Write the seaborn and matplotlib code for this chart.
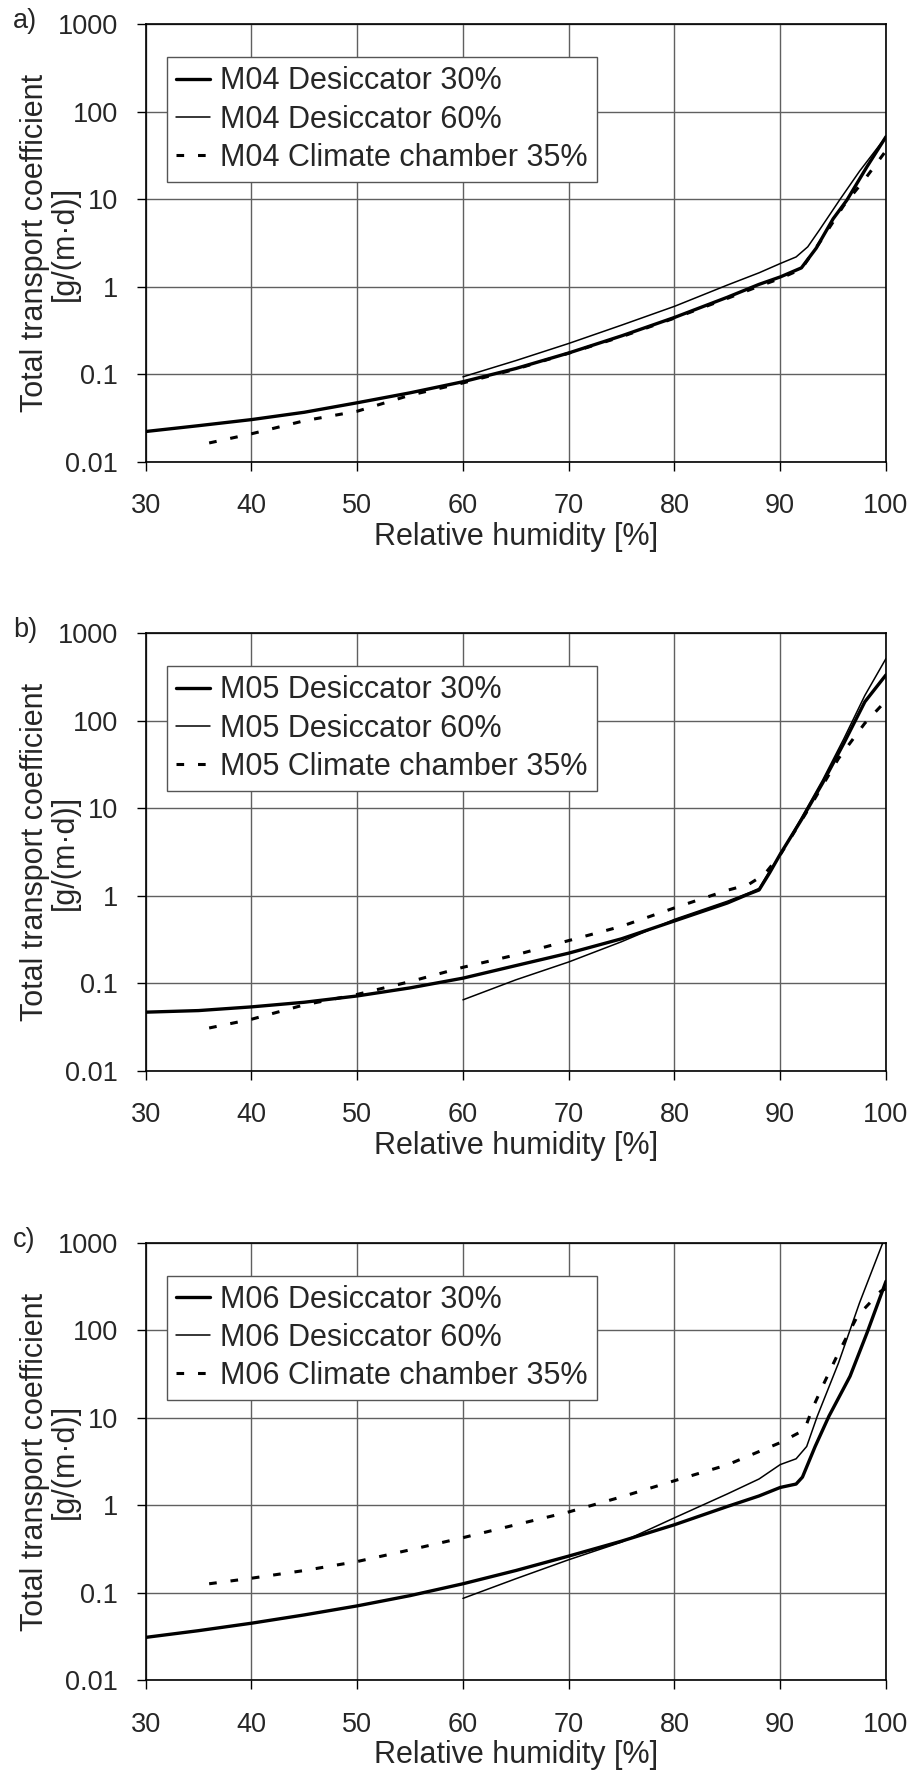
import matplotlib
matplotlib.use("Agg")
import matplotlib.pyplot as plt
import numpy as np
import pandas as pd
import seaborn as sns

# values (RH in %, coefficient in g/(m·d))
rh_m04_30 = [30, 35, 40, 45, 50, 55, 60, 65, 70, 75, 80, 85, 88, 90, 92, 93.4, 95, 96.3, 98.2, 100]
val_m04_30 = [0.0223, 0.026, 0.0305, 0.037, 0.0475, 0.0617, 0.0826, 0.117, 0.176, 0.276, 0.448, 0.762, 1.07, 1.3, 1.65, 2.77, 6.0, 9.8, 23.6, 52]
rh_m04_60 = [60, 65, 70, 75, 80, 85, 88, 90, 91.5, 92.6, 93.7, 95.6, 97.5, 100]
val_m04_60 = [0.094, 0.144, 0.226, 0.366, 0.6, 1.05, 1.45, 1.85, 2.2, 2.87, 4.46, 9.8, 21, 52]
rh_m04_cc = [36, 40, 45, 50, 55, 60, 65, 70, 75, 80, 85, 88, 90, 92, 94, 96, 98, 100]
val_m04_cc = [0.0165, 0.021, 0.0296, 0.038, 0.058, 0.08, 0.115, 0.175, 0.27, 0.44, 0.74, 1.02, 1.25, 1.6, 3.6, 8.5, 17, 36]

rh_m05_30 = [30, 35, 40, 45, 50, 55, 60, 65, 70, 75, 80, 85, 87, 88, 89, 90, 92, 94, 96, 98, 100]
val_m05_30 = [0.047, 0.049, 0.054, 0.061, 0.072, 0.089, 0.115, 0.16, 0.222, 0.324, 0.518, 0.83, 1.05, 1.17, 1.84, 3.0, 7.4, 19.4, 55, 165, 335]
rh_m05_60 = [60, 65, 70, 75, 80, 85, 87, 88, 89, 90, 92, 94, 96, 98, 100]
val_m05_60 = [0.065, 0.11, 0.176, 0.30, 0.54, 0.87, 1.08, 1.22, 1.94, 2.95, 7.8, 21, 62, 195, 515]
rh_m05_cc = [36, 40, 45, 50, 55, 60, 65, 70, 75, 80, 85, 87, 88.5, 90, 93, 95.5, 98, 100]
val_m05_cc = [0.031, 0.039, 0.057, 0.075, 0.105, 0.153, 0.212, 0.309, 0.45, 0.73, 1.16, 1.35, 1.76, 2.95, 11.4, 37, 94, 170]

rh_m06_30 = [30, 35, 40, 45, 50, 55, 60, 65, 70, 75, 80, 85, 88, 90, 91.5, 92.1, 93.3, 94.6, 96.6, 98.2, 100]
val_m06_30 = [0.031, 0.037, 0.045, 0.056, 0.071, 0.093, 0.127, 0.18, 0.263, 0.39, 0.6, 0.97, 1.28, 1.6, 1.75, 2.1, 4.7, 10.4, 29.8, 93, 363]
rh_m06_60 = [60, 65, 70, 75, 80, 85, 88, 90, 91.5, 92.5, 93.5, 95.5, 97.5, 99.7, 100]
val_m06_60 = [0.0865, 0.145, 0.239, 0.38, 0.72, 1.35, 2.0, 2.92, 3.4, 4.7, 10.4, 42, 206, 1000, 1150]
rh_m06_cc = [36, 40, 45, 50, 55, 60, 65, 70, 75, 80, 85, 90, 92.3, 93, 94, 95.5, 97.3, 99.5, 100]
val_m06_cc = [0.127, 0.147, 0.18, 0.228, 0.31, 0.427, 0.6, 0.84, 1.25, 1.91, 2.9, 5.2, 7.3, 12.4, 22.9, 55, 145, 279, 300]

panels = [
    ("a)", "M04", (rh_m04_30, val_m04_30), (rh_m04_60, val_m04_60), (rh_m04_cc, val_m04_cc)),
    ("b)", "M05", (rh_m05_30, val_m05_30), (rh_m05_60, val_m05_60), (rh_m05_cc, val_m05_cc)),
    ("c)", "M06", (rh_m06_30, val_m06_30), (rh_m06_60, val_m06_60), (rh_m06_cc, val_m06_cc)),
]

x_ticks = [30, 40, 50, 60, 70, 80, 90, 100]
y_ticks = [0.01, 0.1, 1, 10, 100, 1000]
y_labels = ["0.01", "0.1", "1", "10", "100", "1000"]

sns.set_style("white")
plt.rcParams["font.family"] = ["Liberation Sans", "DejaVu Sans"]
plt.rcParams["lines.scale_dashes"] = False

W, H = 916, 1776
fig = plt.figure(figsize=(W / 100, H / 100), dpi=100)

ax_left, ax_w, ax_h = 145.7, 740.3, 437.7
ax_tops = [24.3, 633.3, 1242.7]
fs_tick = 19.5
fs = 22

for (tag, name, s30, s60, scc), top in zip(panels, ax_tops):
    ax = fig.add_axes([ax_left / W, 1 - (top + ax_h) / H, ax_w / W, ax_h / H])

    sns.lineplot(x=s30[0], y=s30[1], ax=ax, color="black", lw=2.4, sort=False,
                 label=f"{name} Desiccator 30%")
    sns.lineplot(x=s60[0], y=s60[1], ax=ax, color="black", lw=1.1, sort=False,
                 label=f"{name} Desiccator 60%")
    line_cc = sns.lineplot(x=scc[0], y=scc[1], ax=ax, color="black", lw=2.2, sort=False,
                           label=f"{name} Climate chamber 35%").lines[-1]
    line_cc.set_dashes((5.5, 10))

    ax.set_yscale("log")
    ax.set_xlim(30, 100)
    ax.set_ylim(0.01, 1000)
    ax.set_xticks(x_ticks)
    ax.set_xticklabels([str(t) for t in x_ticks])
    ax.set_yticks(y_ticks)
    ax.set_yticklabels(y_labels)
    ax.minorticks_off()
    ax.grid(True, which="major", color="#606060", lw=1.0)
    ax.tick_params(axis="both", which="major", length=6.5, width=1, color="black",
                   direction="out", labelsize=fs_tick, left=True, bottom=True)
    ax.tick_params(axis="y", pad=13.5)
    ax.tick_params(axis="x", pad=16)
    for sp in ax.spines.values():
        sp.set_color("black")
        sp.set_linewidth(1.2)

    ax.set_xlabel("Relative humidity [%]", fontsize=fs, va="center")
    ax.xaxis.set_label_coords(0.5, -0.171)
    # y label as two rotated lines so the second one sits beside the tick labels
    ax.set_ylabel("")
    ax.text(-0.149, 0.5, "Total transport coefficient", transform=ax.transAxes,
            rotation=90, fontsize=fs, ha="center", va="center", rotation_mode="anchor")
    ax.text(-0.109, 0.5, "[g/(m·d)]", transform=ax.transAxes,
            rotation=90, fontsize=fs, ha="center", va="center", rotation_mode="anchor")

    leg = ax.legend(loc="upper left", bbox_to_anchor=(0.0288, 0.925), borderaxespad=0,
                    fontsize=fs, frameon=True, fancybox=False, handlelength=1.1,
                    handletextpad=0.33, borderpad=0.3, labelspacing=0.27)
    leg.get_frame().set_edgecolor("#555555")
    leg.get_frame().set_linewidth(1.0)
    leg.get_frame().set_alpha(1)

    fig.text(13 / W, 1 - (top - 3) / H, tag, fontsize=fs_tick, ha="left", va="center")

fig.savefig("out.png", dpi=100)
